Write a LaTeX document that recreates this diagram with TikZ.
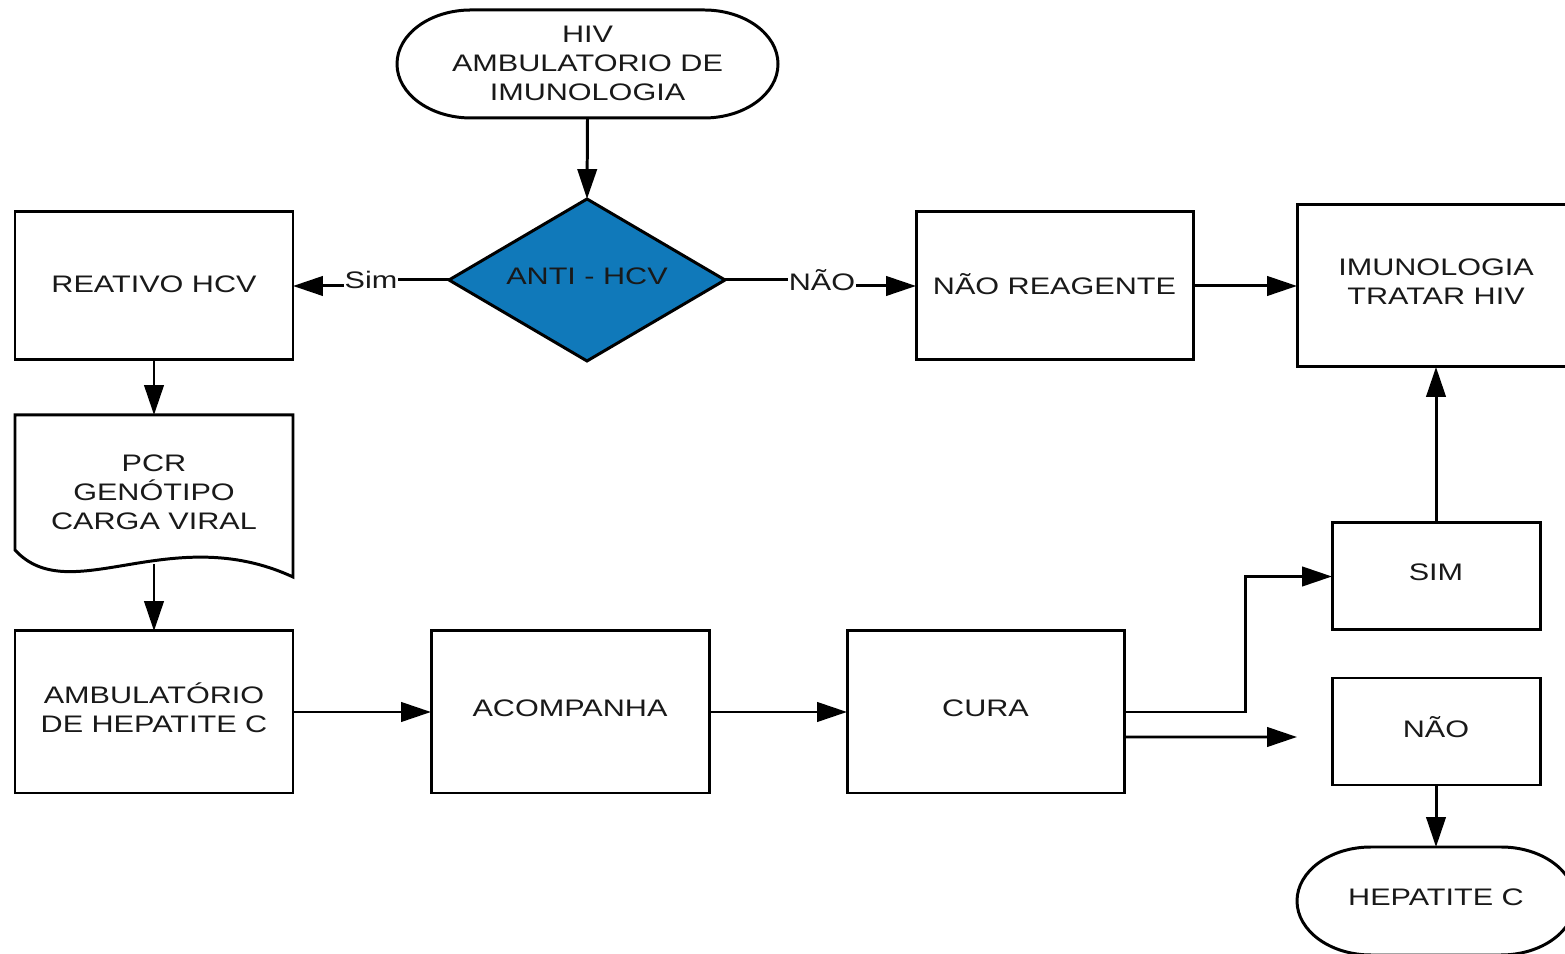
\documentclass[tikz,border=0pt]{standalone}
\usepackage{fontspec}
\setmainfont{Liberation Sans}[FakeStretch=1.28]
\usetikzlibrary{shapes.geometric,arrows.meta}
\definecolor{hcvblue}{RGB}{16,121,186}
\begin{document}
\begin{tikzpicture}[
        every node/.style={font=\fontsize{6.8}{8.3}\selectfont, align=center, text=black!90},
        box/.style={draw, line width=0.85pt, minimum width=2.78cm, minimum height=1.62cm, inner sep=0pt, outer sep=0pt, text depth=0.08cm},
        term/.style={minimum width=2.78cm, minimum height=1.08cm, inner sep=0pt, outer sep=0pt, text depth=0.08cm},
        decision/.style={diamond, aspect=1.7, draw, fill=hcvblue, line width=0.85pt, minimum width=2.76cm, minimum height=1.62cm, inner sep=0pt, outer sep=0pt, text depth=0.08cm},
        lbl/.style={inner sep=0pt, fill=white},
        line/.style={line width=0.85pt},
        arr/.style={line width=0.85pt, -{Triangle[length=8.5pt,width=5.5pt]}}]
                \useasboundingbox (0,0) rectangle (15.65,-9.54);
                % terminals
                \node[term, minimum width=3.81cm, text depth=0.02cm] (hiv) at (5.875,-0.64) {HIV\\AMBULATORIO DE\\IMUNOLOGIA};
                \draw[line] ([xshift=0.74cm]hiv.north west) -- ([xshift=-0.74cm]hiv.north east)
                        arc[start angle=90, end angle=-90, x radius=0.74cm, y radius=0.54cm]
                        -- ([xshift=0.74cm]hiv.south west)
                        arc[start angle=270, end angle=90, x radius=0.74cm, y radius=0.54cm] -- cycle;
                \node[term] (hep) at (14.36,-9.01) {HEPATITE C};
                \draw[line] ([xshift=0.74cm]hep.north west) -- ([xshift=-0.74cm]hep.north east)
                        arc[start angle=90, end angle=-90, x radius=0.74cm, y radius=0.54cm]
                        -- ([xshift=0.74cm]hep.south west)
                        arc[start angle=270, end angle=90, x radius=0.74cm, y radius=0.54cm] -- cycle;
                % decision
                \node[decision] (anti) at (5.87,-2.80) {ANTI - HCV};
                % boxes
                \node[box, minimum height=1.48cm, text depth=0.04cm] (reativo) at (1.54,-2.86) {REATIVO HCV};
                \node[box, minimum width=2.77cm, minimum height=1.48cm, text depth=0.04cm] (naoreag) at (10.545,-2.86) {NÃO REAGENTE};
                \node[box] (imuno) at (14.36,-2.86) {IMUNOLOGIA\\TRATAR HIV};
                \node[box] (amb) at (1.54,-7.12) {AMBULATÓRIO\\DE HEPATITE C};
                \node[box] (acomp) at (5.70,-7.12) {ACOMPANHA};
                \node[box, minimum width=2.77cm] (cura) at (9.855,-7.12) {CURA};
                \node[box, minimum width=2.08cm, minimum height=1.07cm] (sim) at (14.36,-5.765) {SIM};
                \node[box, minimum width=2.08cm, minimum height=1.07cm] (nao) at (14.36,-7.315) {NÃO};
                % document
                \node[term, minimum height=1.54cm, anchor=north, text depth=0pt] (pcr) at (1.54,-4.15) {PCR\\GENÓTIPO\\CARGA VIRAL};
                \draw[line] (pcr.north west) -- (pcr.north east) -- ([yshift=-0.08cm]pcr.south east)
                        .. controls (1.7,-5.2) and (0.7,-6.1) .. ([yshift=0.19cm]pcr.south west) -- cycle;
                \coordinate (pcrbot) at (1.54,-5.64);
                % labels
                \node[lbl] (simlbl) at (3.71,-2.80) {Sim};
                \node[lbl] (naolbl) at (8.22,-2.80) {NÃO};
                \coordinate (naoend) at (12.97,-7.37);
                % connectors
                \draw[arr] (hiv.south) -- (anti.north);
                \draw[line] (anti.west) -- (simlbl.east);
                \draw[arr] (simlbl.west |- reativo.east) -- (reativo.east);
                \draw[line] (anti.east) -- (naolbl.west);
                \draw[arr] (naolbl.east |- naoreag.west) -- (naoreag.west);
                \draw[arr] (naoreag.east) -- (imuno.west);
                \draw[arr] (reativo.south) -- (pcr.north);
                \draw[arr] (pcrbot) -- (amb.north);
                \draw[arr] (amb.east) -- (acomp.west);
                \draw[arr] (acomp.east) -- (cura.west);
                \draw[arr] (cura.east) -- ++(1.21,0) |- (sim.west);
                \draw[arr] ([yshift=-0.25cm]cura.east) -- (naoend);
                \draw[arr] (sim.north) -- (imuno.south);
                \draw[arr] (nao.south) -- (hep.north);
\end{tikzpicture}
\end{document}
